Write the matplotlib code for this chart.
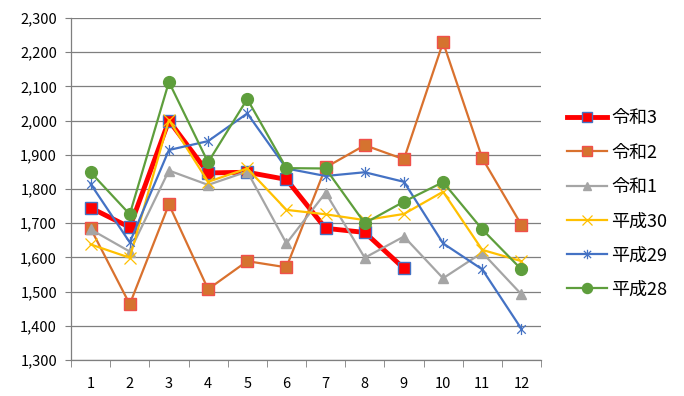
import matplotlib
matplotlib.use("Agg")
import matplotlib.pyplot as plt
from matplotlib.path import Path
from matplotlib.ticker import FuncFormatter, FixedLocator

plt.rcParams['font.family'] = ['Noto Sans CJK JP', 'DejaVu Sans']

months = [1, 2, 3, 4, 5, 6, 7, 8, 9, 10, 11, 12]
month_labels = [str(m) for m in months]

# values
r3 = [1745, 1688, 2000, 1847, 1849, 1828, 1685, 1673, 1568]
r2 = [1685, 1463, 1755, 1507, 1589, 1571, 1863, 1928, 1887, 2229, 1890, 1695]
r1 = [1682, 1617, 1854, 1812, 1851, 1641, 1789, 1599, 1661, 1539, 1614, 1492]
h30 = [1638, 1599, 2002, 1821, 1860, 1739, 1726, 1709, 1727, 1792, 1622, 1589]
h29 = [1815, 1644, 1914, 1940, 2021, 1860, 1838, 1849, 1821, 1641, 1565, 1391]
h28 = [1849, 1726, 2113, 1878, 2063, 1861, 1860, 1700, 1763, 1820, 1682, 1565]

names = ['令和3', '令和2', '令和1', '平成30', '平成29', '平成28']

# excel style star: x with a vertical bar
star = Path([(-1, -1), (1, 1), (-1, 1), (1, -1), (0, -1.3), (0, 1.3)],
            [Path.MOVETO, Path.LINETO, Path.MOVETO, Path.LINETO, Path.MOVETO, Path.LINETO])

fig = plt.figure(figsize=(6.84, 3.96), dpi=100)
ax = fig.add_axes([71/684, 36/396, 470/684, 342/396])

ax.plot(months[:len(r3)], r3, color='#FF0000', lw=3.5, marker='s', ms=8,
        mfc='#FF0000', mec='#4472C4', mew=1.0, label=names[0], zorder=3)
ax.plot(months, r2, color='#D9712E', lw=1.6, marker='s', ms=8,
        mfc='#D5732F', mec='#F0504A', mew=1.0, label=names[1], zorder=4)
ax.plot(months, r1, color='#A5A5A5', lw=1.6, marker='^', ms=7,
        mfc='#A5A5A5', mec='#A5A5A5', label=names[2], zorder=5)
ax.plot(months, h30, color='#FFC000', lw=1.6, marker='x', ms=8,
        mec='#FFC000', mew=0.9, label=names[3], zorder=6)
ax.plot(months, h29, color='#4472C4', lw=1.6, marker=star, ms=8,
        mec='#4472C4', mew=0.9, label=names[4], zorder=7)
ax.plot(months, h28, color='#5E9E3C', lw=1.6, marker='o', ms=8.5,
        mfc='#5E9E3C', mec='#5E9E3C', label=names[5], zorder=8)

ax.set_xlim(0.5, 12.5)
ax.set_ylim(1300, 2300)
ax.set_yticks(range(1300, 2301, 100))
ax.yaxis.set_major_formatter(FuncFormatter(lambda v, p: f'{int(v):,}'))
ax.set_xticks(months)
ax.set_xticklabels(month_labels)
ax.xaxis.set_minor_locator(FixedLocator([m + 0.5 for m in range(0, 13)]))

ax.grid(axis='y', color='#7F7F7F', lw=0.9, zorder=0)
ax.set_axisbelow(True)
for s in ['top', 'right']:
    ax.spines[s].set_visible(False)
for s in ['left', 'bottom']:
    ax.spines[s].set_color('#7F7F7F')
    ax.spines[s].set_linewidth(0.9)

ax.tick_params(axis='y', length=4, color='#7F7F7F', labelsize=10.5, pad=6)
ax.tick_params(axis='x', which='major', length=0, labelsize=10.5, pad=12)
ax.tick_params(axis='x', which='minor', length=5, color='#7F7F7F')

ax.legend(loc='upper left', bbox_to_anchor=(567/684, 1 - 109.5/396),
          bbox_transform=fig.transFigure, frameon=False, fontsize=13,
          borderpad=0, borderaxespad=0, markerscale=0.85,
          handlelength=2.2, labelspacing=0.9, handletextpad=0.25)

fig.savefig('out.png', dpi=100)
